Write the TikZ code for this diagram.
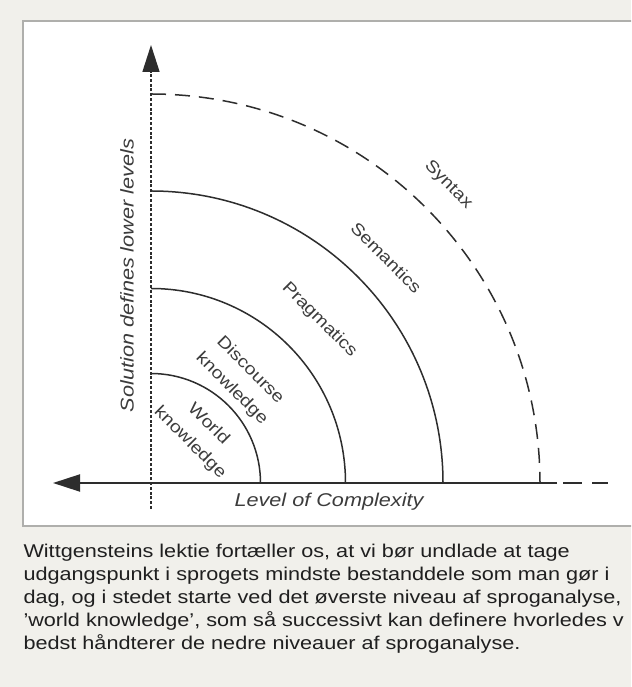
\documentclass[tikz,border=0pt]{standalone}
\usepackage{fontspec}
\setmainfont{Liberation Sans}[FakeStretch=1.17]
\usepackage{tikz}
\definecolor{pagegray}{RGB}{241,240,235}
\definecolor{framegray}{RGB}{175,175,172}
\definecolor{inkgray}{RGB}{45,45,45}
\definecolor{textgray}{RGB}{60,60,60}
\usetikzlibrary{arrows.meta, positioning, calc}

\begin{document}
\begin{tikzpicture}[x=1pt, y=1pt,
    axisline/.style={draw=inkgray, line width=2pt},
    levelarc/.style={draw=inkgray, line width=1.5pt},
    levellabel/.style={text=textgray, font=\fontsize{16.8}{26}\selectfont, align=center, inner sep=0pt, rotate=-45},
    axislabel/.style={text=textgray, font=\fontsize{18.5}{22}\selectfont\itshape, inner sep=0pt},
    captionline/.style={text=black!88, font=\fontsize{18.5}{23}\selectfont, anchor=base west, inner sep=0pt}]
    \clip (0,0) rectangle (631,687);
    \fill[pagegray] (0,0) rectangle (631,687);
    \draw[framegray, fill=white, line width=1.5pt] (23,161) rectangle (660,666);

    \coordinate (origin) at (151,204);
    \coordinate (ytip) at (151,642);
    \coordinate (ybottom) at (151,178);
    \coordinate (xtip) at (53,204);
    \coordinate (xend) at (557,204);
    \coordinate (tailstart) at (563,204);
    \coordinate (tailend) at (608,204);

    % levels
    \draw[levelarc] ($(origin)+(0,109.5)$) arc (90:0:109.5);
    \draw[levelarc] ($(origin)+(0,194.5)$) arc (90:0:194.5);
    \draw[levelarc] ($(origin)+(0,292)$) arc (90:0:292);
    \draw[levelarc, dash pattern=on 15pt off 9pt] ($(origin)+(0,389)$) arc (90:0:389);

    % axes
    \draw[axisline, -{Triangle[length=27pt, width=17pt]}] (xend) -- (xtip);
    \draw[axisline, dash pattern=on 19pt off 10pt] (tailstart) -- (tailend);
    \draw[draw=inkgray, line width=1.5pt, dash pattern=on 3pt off 1.8pt,
          -{Triangle[length=27pt, width=17pt]}] (ybottom) -- (ytip);

    \node[axislabel, rotate=90] (solution) at (127,411.5) {Solution defines lower levels};
    \node[axislabel, anchor=base] (complexity) at (329,180.3) {Level of Complexity};

    \node[levellabel] (world) at ($(origin)+(45.8:69)$) {World\\knowledge};
    \node[levellabel] (discourse) at ($(origin)+(49:137)$) {Discourse\\knowledge};
    \node[levellabel] (pragmatics) at ($(origin)+(44.1:234.5)$) {Pragmatics};
    \node[levellabel] (semantics) at ($(origin)+(43.8:326)$) {Semantics};
    \node[levellabel] (syntax) at ($(origin)+(45.1:421)$) {Syntax};

    % caption
    \node[captionline] (cap1) at (23.3,129.7) {Wittgensteins lektie fortæller os, at vi bør undlade at tage};
    \node[captionline] (cap2) at (23.3,106.7) {udgangspunkt i sprogets mindste bestanddele som man gør i};
    \node[captionline] (cap3) at (23.3,83.7) {dag, og i stedet starte ved det øverste niveau af sproganalyse,};
    \node[captionline] (cap4) at (23.3,60.7) {'world knowledge', som så successivt kan definere hvorledes v};
    \node[captionline] (cap5) at (23.3,37.7) {bedst håndterer de nedre niveauer af sproganalyse.};
\end{tikzpicture}
\end{document}
